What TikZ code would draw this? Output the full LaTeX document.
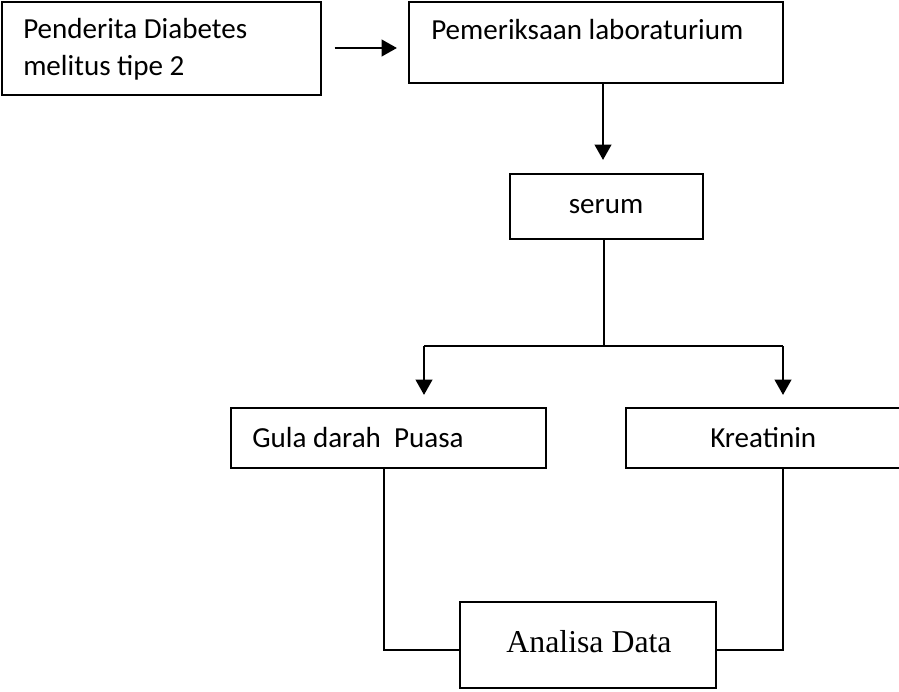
\documentclass[tikz,border=0pt]{standalone}
\usepackage{fontspec}
\setmainfont{Carlito}
\newfontfamily\timesfont{Liberation Serif}
\usetikzlibrary{fit,arrows.meta}

\tikzset{
  box/.style={draw, line width=1.6pt, inner sep=0pt},
  txt/.style={inner sep=0pt, anchor=base west, font=\fontsize{21.8}{27}\selectfont},
  arr/.style={line width=1.6pt, -{Triangle[width=12.5pt,length=11.5pt]}},
  line/.style={line width=1.6pt}
}

\begin{document}
\begin{tikzpicture}[x=0.75pt, y=-0.75pt]
\clip (0,0) rectangle (899,692);

\node[box, fit={(2,2) (321,95)}] (pend) {};
\node[box, fit={(409,2) (783,83)}] (lab) {};
\node[box, fit={(510,174) (703,239)}] (serum) {};
\node[box, fit={(231,408) (546,468)}] (gula) {};
\node[box, fit={(626,408) (930,468)}] (kreat) {};
\node[box, fit={(460,602) (716,688)}] (analisa) {};

\node[txt] (pendA) at (23,39) {Penderita Diabetes};
\node[txt] (pendB) at (23,75) {melitus tipe 2};
\node[txt] (labtxt) at (431,40) {Pemeriksaan laboraturium};
\node[txt, anchor=base] (serumtxt) at (606,213) {serum};
\node[txt] (gulatxt) at (252,447) {Gula darah\ \ Puasa};
\node[txt] (kreattxt) at (710,447) {Kreatinin};
\node[txt, anchor=base, font=\timesfont\fontsize{23.85}{28}\selectfont] (analisatxt) at (589,652) {Analisa Data};

\coordinate (mid) at (604,346);
\coordinate (left) at (424,346);
\coordinate (right) at (783,346);
\coordinate (gb) at (384,650);
\coordinate (kb) at (783,650);

\draw[arr, shorten <=9.5pt, shorten >=8.25pt] (pend.east |- 0,48) -- (lab.west |- 0,48);
\draw[arr, shorten >=9.75pt] (lab.south -| 603,0) -- (serum.north -| 603,0);
\draw[line] (serum.south -| mid) -- (mid);
\draw[line] (left) -- (right);
\draw[arr, shorten >=9pt] (left) -- (left |- gula.north);
\draw[arr, shorten >=9pt] (right) -- (right |- kreat.north);
\draw[line] (gula.south -| gb) -- (gb) -- (gb -| analisa.west);
\draw[line] (kreat.south -| kb) -- (kb) -- (kb -| analisa.east);
\end{tikzpicture}
\end{document}
